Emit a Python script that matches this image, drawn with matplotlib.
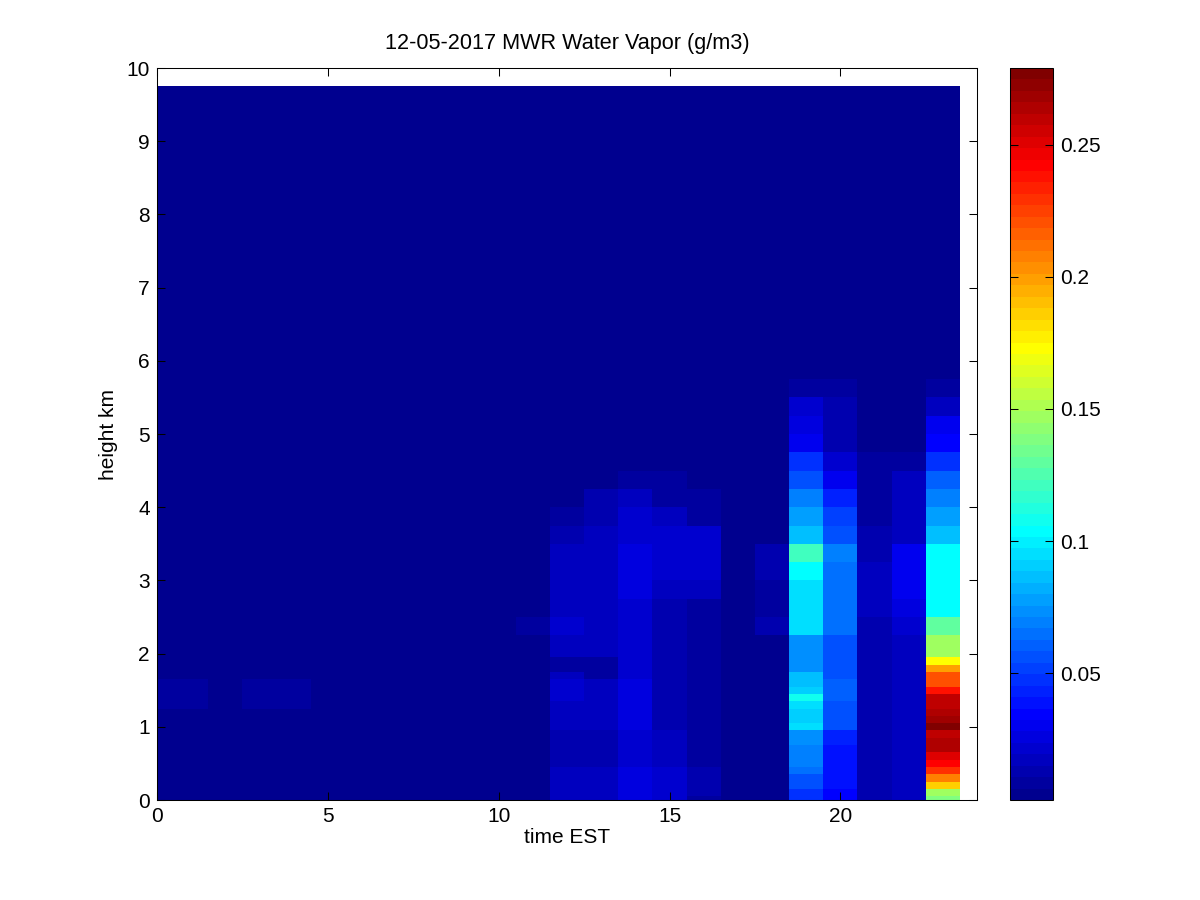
import numpy as np
import matplotlib
matplotlib.use("Agg")
import matplotlib.pyplot as plt
from matplotlib.colors import ListedColormap

# retrieval grid (km) and hourly time bins (EST)
height_edges = [0, 0.05, 0.15, 0.25, 0.35, 0.45, 0.55, 0.65, 0.75, 0.85, 0.95,
                1.05, 1.15, 1.25, 1.35, 1.45, 1.55, 1.65, 1.75, 1.85, 1.95,
                2.25, 2.5, 2.75, 3.0, 3.25, 3.5, 3.75, 4.0, 4.25, 4.5, 4.75,
                5.0, 5.25, 5.5, 5.75, 6.0, 6.25, 6.5, 6.75, 7.0, 7.25, 7.5,
                7.75, 8.0, 8.25, 8.5, 8.75, 9.0, 9.25, 9.5, 9.75]
time_edges = [0, 0.5, 1.5, 2.5, 3.5, 4.5, 5.5, 6.5, 7.5, 8.5, 9.5, 10.5, 11.5,
              12.5, 13.5, 14.5, 15.5, 16.5, 17.5, 18.5, 19.5, 20.5, 21.5,
              22.5, 23.5]

background = 0.004

# water vapour profiles (g/m3), from the lowest level upward
wv_h00 = [0.004, 0.004, 0.004, 0.004, 0.004, 0.004, 0.004, 0.004, 0.004,
          0.004, 0.004, 0.004, 0.004, 0.008, 0.008, 0.008, 0.007]
wv_h01 = [0.004, 0.004, 0.004, 0.004, 0.004, 0.004, 0.004, 0.004, 0.004,
          0.004, 0.004, 0.004, 0.004, 0.008, 0.008, 0.008, 0.007]
wv_h03 = [0.004, 0.004, 0.004, 0.004, 0.004, 0.004, 0.004, 0.004, 0.004,
          0.004, 0.004, 0.004, 0.004, 0.007, 0.007, 0.007, 0.009]
wv_h04 = [0.004, 0.004, 0.004, 0.004, 0.004, 0.004, 0.004, 0.004, 0.004,
          0.004, 0.004, 0.004, 0.004, 0.007, 0.007, 0.007, 0.009]
wv_h11 = [0.004, 0.004, 0.004, 0.004, 0.004, 0.004, 0.004, 0.004, 0.004,
          0.004, 0.004, 0.004, 0.004, 0.004, 0.004, 0.004, 0.004, 0.004,
          0.004, 0.004, 0.004, 0.008]
wv_h12 = [0.015, 0.015, 0.015, 0.015, 0.015, 0.012, 0.012, 0.012, 0.012,
          0.012, 0.018, 0.018, 0.019, 0.019, 0.020, 0.020, 0.020, 0.018,
          0.007, 0.007, 0.015, 0.020, 0.017, 0.017, 0.017, 0.017, 0.012,
          0.008, 0.006]
wv_h13 = [0.017, 0.017, 0.017, 0.017, 0.017, 0.014, 0.014, 0.014, 0.014,
          0.014, 0.017, 0.017, 0.017, 0.017, 0.017, 0.017, 0.017, 0.010,
          0.010, 0.010, 0.016, 0.016, 0.016, 0.018, 0.019, 0.019, 0.018,
          0.013, 0.011, 0.006]
wv_h14 = [0.027, 0.027, 0.027, 0.027, 0.027, 0.023, 0.023, 0.023, 0.023,
          0.023, 0.026, 0.026, 0.026, 0.026, 0.026, 0.026, 0.026, 0.020,
          0.020, 0.020, 0.020, 0.020, 0.021, 0.025, 0.026, 0.026, 0.023,
          0.020, 0.019, 0.010]
wv_h15 = [0.021, 0.021, 0.021, 0.021, 0.021, 0.017, 0.017, 0.017, 0.017,
          0.017, 0.013, 0.013, 0.013, 0.013, 0.013, 0.013, 0.013, 0.011,
          0.011, 0.011, 0.014, 0.014, 0.012, 0.018, 0.021, 0.022, 0.021,
          0.016, 0.010, 0.008]
wv_h16 = [0.010, 0.013, 0.013, 0.013, 0.013, 0.008, 0.008, 0.008, 0.008,
          0.008, 0.008, 0.008, 0.008, 0.008, 0.008, 0.008, 0.008, 0.008,
          0.008, 0.008, 0.009, 0.009, 0.009, 0.017, 0.020, 0.020, 0.020,
          0.009, 0.008]
wv_h17 = [0.006, 0.006, 0.006, 0.006, 0.006, 0.005, 0.005, 0.005, 0.005,
          0.005, 0.006, 0.006, 0.006, 0.006, 0.006, 0.005, 0.005, 0.005,
          0.005, 0.005, 0.006, 0.006, 0.006, 0.006, 0.006, 0.006]
wv_h18 = [0.005, 0.005, 0.005, 0.005, 0.005, 0.005, 0.005, 0.005, 0.005,
          0.005, 0.005, 0.005, 0.005, 0.005, 0.005, 0.005, 0.005, 0.005,
          0.005, 0.005, 0.005, 0.011, 0.009, 0.007, 0.014, 0.014, 0.006]
wv_h19 = [0.047, 0.047, 0.056, 0.058, 0.065, 0.069, 0.069, 0.069, 0.074,
          0.074, 0.095, 0.091, 0.091, 0.095, 0.110, 0.091, 0.086, 0.086,
          0.074, 0.074, 0.074, 0.093, 0.095, 0.093, 0.104, 0.120, 0.086,
          0.078, 0.069, 0.056, 0.047, 0.029, 0.026, 0.022, 0.009]
wv_h20 = [0.034, 0.035, 0.037, 0.037, 0.037, 0.037, 0.037, 0.039, 0.043,
          0.045, 0.058, 0.058, 0.058, 0.058, 0.060, 0.060, 0.060, 0.057,
          0.055, 0.055, 0.057, 0.063, 0.064, 0.066, 0.066, 0.069, 0.057,
          0.053, 0.043, 0.030, 0.022, 0.014, 0.013, 0.013, 0.008]
wv_h21 = [0.012, 0.012, 0.011, 0.011, 0.011, 0.011, 0.012, 0.012, 0.012,
          0.011, 0.011, 0.012, 0.012, 0.011, 0.011, 0.011, 0.012, 0.012,
          0.012, 0.013, 0.013, 0.014, 0.017, 0.018, 0.015, 0.013, 0.011,
          0.007, 0.010, 0.010, 0.008]
wv_h22 = [0.017, 0.017, 0.016, 0.016, 0.017, 0.017, 0.017, 0.016, 0.016,
          0.017, 0.017, 0.017, 0.016, 0.016, 0.017, 0.017, 0.017, 0.017,
          0.016, 0.017, 0.017, 0.020, 0.027, 0.029, 0.029, 0.030, 0.019,
          0.018, 0.017, 0.016, 0.010]
wv_h23 = [0.138, 0.147, 0.186, 0.208, 0.230, 0.243, 0.251, 0.262, 0.262,
          0.260, 0.277, 0.269, 0.264, 0.260, 0.260, 0.238, 0.220, 0.220,
          0.199, 0.172, 0.147, 0.130, 0.104, 0.104, 0.104, 0.104, 0.086,
          0.076, 0.069, 0.060, 0.049, 0.034, 0.028, 0.017, 0.009]

profiles = {0: wv_h00, 1: wv_h01, 3: wv_h03, 4: wv_h04, 11: wv_h11,
            12: wv_h12, 13: wv_h13, 14: wv_h14, 15: wv_h15, 16: wv_h16,
            17: wv_h17, 18: wv_h18, 19: wv_h19, 20: wv_h20, 21: wv_h21,
            22: wv_h22, 23: wv_h23}

cbar_ticks = [0.05, 0.1, 0.15, 0.2, 0.25]
cbar_labels = ['0.05', '0.1', '0.15', '0.2', '0.25']


def matlab_jet(m=64):
    # same construction as MATLAB's jet(m)
    n = m // 4
    u = np.concatenate([np.arange(1, n + 1) / n, np.ones(n - 1),
                        np.arange(n, 0, -1) / n])
    g = n // 2 + np.arange(1, len(u) + 1)
    rgb = np.zeros((m, 3))
    for ch, idx in ((0, g + n), (1, g), (2, g - n)):
        ok = (idx >= 1) & (idx <= m)
        rgb[idx[ok] - 1, ch] = u[ok]
    return ListedColormap(rgb)


def main():
    plt.rcParams['font.family'] = ['Liberation Sans', 'DejaVu Sans']
    plt.rcParams['font.size'] = 10

    nrow = len(height_edges) - 1
    ncol = len(time_edges) - 1
    grid = np.full((nrow, ncol), background)
    for col, prof in profiles.items():
        grid[:len(prof), col] = prof

    fig = plt.figure(figsize=(8, 6), dpi=150)
    ax = fig.add_axes([0.1308, 0.1111, 0.6834, 0.8133])
    mesh = ax.pcolormesh(time_edges, height_edges, grid, shading='flat',
                         cmap=matlab_jet(64), vmin=0.002, vmax=0.279)
    ax.set_xlim(0, 24)
    ax.set_ylim(0, 10)
    ax.set_xticks([0, 5, 10, 15, 20])
    ax.set_yticks(range(0, 11))
    ax.tick_params(direction='in', top=True, right=True, length=3.8,
                   width=0.5, labelsize=10)
    for sp in ax.spines.values():
        sp.set_linewidth(0.5)
    ax.set_xlabel('time EST', fontsize=10, labelpad=1)
    ax.set_ylabel('height km', fontsize=10)
    ax.set_title('12-05-2017 MWR Water Vapor (g/m3)', fontsize=10.4, pad=9)

    cax = fig.add_axes([0.8417, 0.1111, 0.0358, 0.8133])
    cb = fig.colorbar(mesh, cax=cax, ticks=cbar_ticks)
    cb.set_ticklabels(cbar_labels)
    cb.outline.set_linewidth(0.5)
    cax.tick_params(direction='in', left=True, right=True, length=3.8,
                    width=0.5, labelsize=10)

    fig.savefig('out.png', dpi=150, facecolor='white')


if __name__ == "__main__":
    main()
